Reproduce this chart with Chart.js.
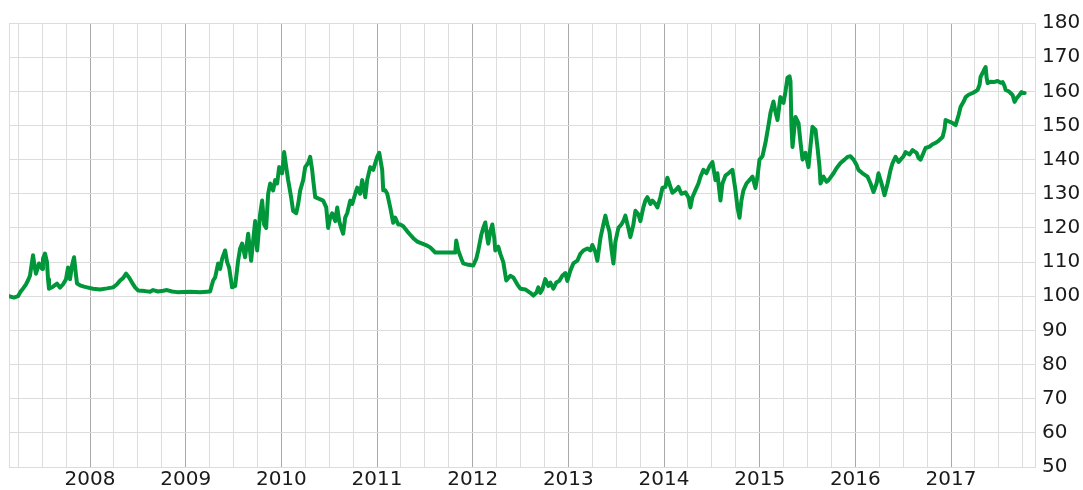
<!DOCTYPE html>
<html>
<head>
<meta charset="utf-8">
<script src="https://cdn.jsdelivr.net/npm/chart.js@4.4.1/dist/chart.umd.min.js"></script>
<style>
html,body{margin:0;padding:0;background:#fff;}
#wrap{width:1083px;height:490px;position:relative;}
</style>
</head>
<body>
<div id="wrap"><canvas id="c"></canvas></div>
<script>
// Time (decimal years) of each observation
const times = [
2007.153,2007.205,2007.247,2007.278,2007.299,2007.331,2007.351,2007.372,2007.404,2007.425,
2007.435,2007.467,2007.498,2007.508,2007.529,2007.550,2007.561,2007.571,2007.613,2007.655,
2007.686,2007.718,2007.749,2007.770,2007.791,2007.812,2007.833,2007.854,2007.864,2007.895,
2007.937,2007.969,2008.031,2008.105,2008.178,2008.241,2008.282,2008.314,2008.345,2008.377,
2008.408,2008.439,2008.471,2008.502,2008.575,2008.628,2008.659,2008.711,2008.764,2008.805,
2008.858,2008.910,2009.046,2009.151,2009.255,2009.287,2009.308,2009.339,2009.360,2009.381,
2009.412,2009.433,2009.454,2009.485,2009.517,2009.548,2009.569,2009.590,2009.621,2009.653,
2009.684,2009.726,2009.747,2009.778,2009.799,2009.820,2009.841,2009.862,2009.883,2009.914,
2009.935,2009.956,2009.977,2010.008,2010.029,2010.050,2010.071,2010.102,2010.123,2010.155,
2010.176,2010.197,2010.228,2010.249,2010.280,2010.301,2010.322,2010.333,2010.354,2010.395,
2010.437,2010.469,2010.489,2010.510,2010.531,2010.563,2010.584,2010.605,2010.625,2010.646,
2010.667,2010.688,2010.720,2010.741,2010.772,2010.793,2010.824,2010.845,2010.866,2010.877,
2010.897,2010.929,2010.960,2011.002,2011.023,2011.054,2011.065,2011.086,2011.107,2011.138,
2011.169,2011.190,2011.222,2011.243,2011.274,2011.316,2011.347,2011.379,2011.420,2011.473,
2011.525,2011.556,2011.609,2011.713,2011.818,2011.828,2011.849,2011.881,2011.902,2011.954,
2012.006,2012.038,2012.058,2012.090,2012.111,2012.132,2012.153,2012.163,2012.184,2012.205,
2012.226,2012.236,2012.268,2012.289,2012.320,2012.351,2012.393,2012.425,2012.466,2012.498,
2012.550,2012.602,2012.634,2012.665,2012.686,2012.707,2012.728,2012.759,2012.791,2012.812,
2012.843,2012.874,2012.906,2012.937,2012.969,2012.989,2013.021,2013.052,2013.094,2013.125,
2013.157,2013.199,2013.230,2013.251,2013.282,2013.303,2013.335,2013.366,2013.387,2013.408,
2013.429,2013.450,2013.471,2013.492,2013.523,2013.554,2013.575,2013.596,2013.627,2013.648,
2013.680,2013.701,2013.732,2013.753,2013.784,2013.805,2013.826,2013.858,2013.879,2013.910,
2013.931,2013.962,2013.983,2014.015,2014.035,2014.067,2014.088,2014.119,2014.150,2014.182,
2014.224,2014.255,2014.276,2014.297,2014.328,2014.360,2014.381,2014.412,2014.443,2014.475,
2014.506,2014.538,2014.558,2014.590,2014.611,2014.642,2014.674,2014.715,2014.747,2014.768,
2014.789,2014.809,2014.830,2014.862,2014.893,2014.925,2014.956,2014.977,2014.998,2015.029,
2015.061,2015.092,2015.113,2015.144,2015.165,2015.186,2015.217,2015.249,2015.270,2015.291,
2015.312,2015.322,2015.332,2015.343,2015.374,2015.406,2015.427,2015.448,2015.479,2015.510,
2015.531,2015.552,2015.584,2015.594,2015.604,2015.625,2015.636,2015.667,2015.699,2015.720,
2015.772,2015.803,2015.845,2015.887,2015.918,2015.950,2015.981,2016.012,2016.033,2016.075,
2016.127,2016.159,2016.190,2016.222,2016.242,2016.274,2016.305,2016.337,2016.368,2016.389,
2016.420,2016.452,2016.473,2016.504,2016.525,2016.567,2016.598,2016.640,2016.661,2016.682,
2016.713,2016.734,2016.776,2016.807,2016.839,2016.870,2016.912,2016.933,2016.943,2016.975,
2016.996,2017.027,2017.048,2017.079,2017.100,2017.132,2017.153,2017.184,2017.226,2017.257,
2017.278,2017.299,2017.309,2017.341,2017.362,2017.372,2017.383,2017.414,2017.445,2017.487,
2017.519,2017.540,2017.560,2017.571,2017.602,2017.623,2017.644,2017.665,2017.686,2017.697,
2017.717,2017.738,2017.749,2017.770
];
// Index value at each observation
const values = [
100,99.6,100,101.5,102.2,103.5,104.6,106,112,108,
106.6,109.6,108,111,112.5,110,105,102.2,102.8,103.7,
102.5,103.5,105,108.4,105,109,111.4,106,103.7,103.2,
102.8,102.6,102.2,102,102.3,102.6,103.5,104.6,105.3,106.6,
105.5,104,102.6,101.7,101.5,101.3,101.8,101.4,101.6,101.8,
101.4,101.2,101.3,101.2,101.4,104.6,105.5,109.6,108,111,
113.4,110,108.4,102.6,103,110.4,114,115.4,111.4,118.3,
110.4,122,113.4,124,128,121,120,130,133,131,
134,133,137.8,136,142.2,138,134,129,125,124.3,
127,131,134,137.8,139,140.8,137,134,129,128.5,
128,126,120,123,124.3,122,126,122,120,118.3,
123,124.3,128,127,130,131.8,130,134,131,129,
134,137.8,137,140.8,142,137,131,131,130,126,
121.5,123,121,121,120.5,119,118,117,116,115.4,
114.8,114.3,112.8,112.8,112.8,116.3,113.4,111,109.6,109.2,
109,111,113.4,118,120,121.6,117,115.4,119,121,
117,113.4,114.5,112.4,110,104.6,106,105.5,103.5,102.2,
102,101,100.2,101,102.6,101,102,105,103,104,
102.2,104,104.5,106,106.8,104.5,107.5,109.6,110.4,112.4,
113.4,114,113.4,115,113,110.4,117,121,123.6,121,
119,114,109.6,116,120,121,122,123.6,120,117.3,
121,125,124,122,126,128,129,127,128,127,
126,129,131.7,132,134.7,132,130.3,131,132,130,
130.4,129,126,129,131,133,135,137,136,138,
139.3,134,136,128,133,135.3,136,137,131,126,
123,128,131,133,134,135,131.7,135,140,141,
145,150,153.7,157,154,151.6,158.3,156.6,160,164,
164.4,163,150,143.7,152.5,150.7,145,140,142,137.8,
144,149.6,148.7,146,143.7,138,133,135,133.5,134,
136,137.5,139,140,140.8,141,140,138.5,137,136,
135,133,130.5,133,136,133,129.6,133,137,139,
140.8,139.3,140,141,142.2,141.5,142.8,142,140.5,140,
142,143.4,143.8,144.5,144.9,145.5,146.6,149,151.6,151.2,
151,150.5,150.1,153,155.4,157,158.3,159,159.5,160,
160.4,162,164.2,166,167.1,164,162.4,162.8,162.7,163,
162.5,162.7,161.5,160.4,160,159.5,158.9,156.9,158,158.3,
159,159.8,159.5,159.5
];
const xMin = 2007.153, xMax = 2017.878;
const yearLabels = [2008,2009,2010,2011,2012,2013,2014,2015,2016,2017];
const yMin = 50, yMax = 180, yStep = 10;

const points = times.map((t,i)=>({x:t, y:values[i]}));
const quarterTicks = [xMin];
for (let y=2007; y<=2017; y++) for (let q=0;q<4;q++){ const v=y+q/4; if (v>xMin && v<xMax) quarterTicks.push(v); }
quarterTicks.push(xMax);

new Chart(document.getElementById('c'), {
  type:'line',
  data:{datasets:[{data:points, borderColor:'#00963a', borderWidth:4, pointRadius:0, tension:0, fill:false, borderJoinStyle:'round', borderCapStyle:'round'}]},
  options:{
    responsive:true, maintainAspectRatio:false, animation:false,
    layout:{padding:{left:9,top:23,right:0,bottom:0}},
    plugins:{legend:{display:false}, tooltip:{enabled:false}},
    scales:{
      x:{type:'linear', min:xMin, max:xMax,
        afterBuildTicks:(axis)=>{axis.ticks = quarterTicks.map(v=>({value:v}));},
        afterFit:(s)=>{s.height = 23;},
        grid:{drawTicks:false, lineWidth:1, color:(ctx)=> (ctx.tick && yearLabels.includes(ctx.tick.value)) ? '#a9a9a9' : '#dcdcdc'},
        border:{color:'#dcdcdc'},
        ticks:{autoSkip:false, maxRotation:0, padding:3, color:'#1a1a1a', font:{family:'DejaVu Sans', size:20, lineHeight:1},
          callback:(v)=> yearLabels.includes(v) ? String(v) : ''}
      },
      y:{position:'right', min:yMin, max:yMax,
        afterFit:(s)=>{s.width = 48;},
        grid:{drawTicks:false, color:'#dcdcdc', lineWidth:1},
        border:{color:'#dcdcdc'},
        ticks:{stepSize:yStep, padding:7, color:'#1a1a1a', font:{family:'DejaVu Sans', size:20}}
      }
    }
  }
});
</script>
</body>
</html>
